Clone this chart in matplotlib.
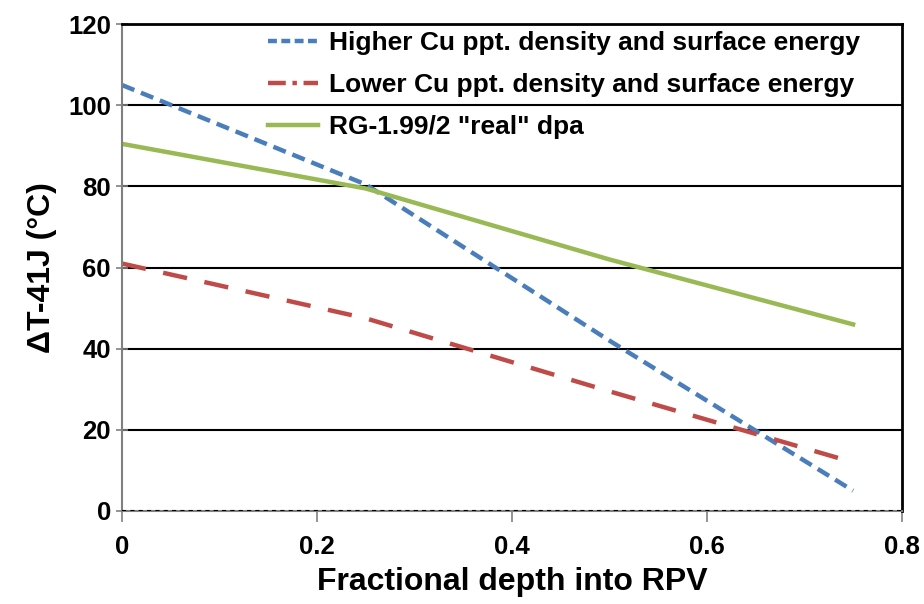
import matplotlib.pyplot as plt
from matplotlib.lines import Line2D

plt.rcParams['font.family'] = ['Liberation Sans', 'DejaVu Sans']
plt.rcParams['font.weight'] = 'bold'

# data
depth = [0, 0.25, 0.5, 0.75]
higher_cu = [105, 80.5, 42, 5]
lower_cu = [61, 47.5, 29.5, 12]
rg199 = [90.5, 79.5, 62, 46]

labels = ['Higher Cu ppt. density and surface energy',
          'Lower Cu ppt. density and surface energy',
          'RG-1.99/2 "real" dpa']
colors = ['#4a7ebb', '#be4b48', '#98b954']

fig = plt.figure(figsize=(9.24, 6.04), dpi=100)
ax = fig.add_axes([0.132, 0.154, 0.844, 0.806])

ax.plot(depth, higher_cu, color=colors[0], lw=3.2, dashes=(3, 1.6))
ax.plot(depth, lower_cu, color=colors[1], lw=3.2, dashes=(5.5, 4))
ax.plot(depth, rg199, color=colors[2], lw=3.2)

ax.set_xlim(0, 0.8)
ax.set_ylim(0, 120)
ax.set_xticks([0, 0.2, 0.4, 0.6, 0.8])
ax.set_xticklabels(['0', '0.2', '0.4', '0.6', '0.8'])
ax.set_yticks(range(0, 121, 20))

# horizontal gridlines
for y in range(20, 121, 20):
    ax.axhline(y, color='black', lw=1.5, zorder=1)
ax.axhline(0, color='black', lw=1.5, ls=(0, (2, 2)), zorder=3)

ax.spines['left'].set_color('#808080')
ax.spines['left'].set_linewidth(1.5)
ax.spines['bottom'].set_color('#808080')
ax.spines['bottom'].set_linewidth(1.5)
ax.spines['top'].set_color('black')
ax.spines['top'].set_linewidth(2)
ax.spines['right'].set_color('black')
ax.spines['right'].set_linewidth(2)

ax.tick_params(axis='both', direction='inout', length=8, width=1.2,
               color='#808080', labelsize=18.5, pad=4)
ax.tick_params(axis='x', direction='out', length=8, pad=9)

ax.set_xlabel('Fractional depth into RPV', fontsize=23, fontweight='bold', labelpad=6)
ax.set_ylabel('ΔT-41J (°C)', fontsize=23, fontweight='bold', labelpad=8)

handles = [Line2D([], [], color=colors[0], lw=3.2, dashes=(2, 1)),
           Line2D([], [], color=colors[1], lw=3.2, dashes=(4, 1.5, 1, 1.5)),
           Line2D([], [], color=colors[2], lw=3.2)]
ax.legend(handles, labels, loc='upper right',
          bbox_to_anchor=(860 / 924, 1 - 31 / 604), bbox_transform=fig.transFigure,
          frameon=False, fontsize=19, handlelength=1.9, handletextpad=0.4,
          labelspacing=0.68, borderpad=0, borderaxespad=0)

fig.savefig('out.png', dpi=100)
